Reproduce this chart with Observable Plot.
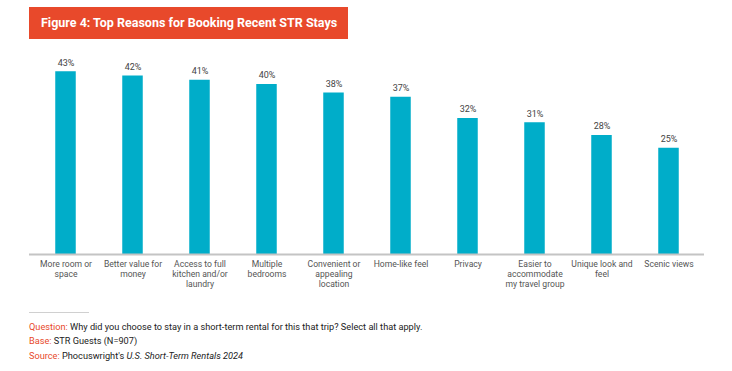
<!DOCTYPE html>
<html>
<head>
<meta charset="utf-8">
<script src="https://cdn.jsdelivr.net/npm/d3@7"></script>
<script src="https://cdn.jsdelivr.net/npm/@observablehq/plot@0.6"></script>
<style>
  body { margin: 0; background: #fff; font-family: Roboto, "Noto Sans", sans-serif; }
  #wrap { position: relative; width: 732px; height: 371px; overflow: hidden; }
  #title { position: absolute; left: 29px; top: 7px; width: 319px; height: 32px; background: #E8492B;
           color: #fff; font-weight: bold; font-size: 12.5px; line-height: 32px; box-sizing: border-box; padding-left: 12px; white-space: nowrap; }
  #chart { position: absolute; left: 0; top: 0; }
  #rule { position: absolute; left: 29px; top: 312px; width: 60px; height: 1px; background: #d0d0d0; }
  .note { position: absolute; left: 29px; font-size: 9.2px; color: #222; white-space: nowrap; }
  .note b { font-weight: normal; color: #E8492B; }
</style>
</head>
<body>
<div id="wrap">
  <div id="chart"></div>
  <div id="title">Figure 4: Top Reasons for Booking Recent STR Stays</div>
  <div id="rule"></div>
  <div class="note" style="top:320.5px"><b>Question:</b> Why did you choose to stay in a short-term rental for this that trip? Select all that apply.</div>
  <div class="note" style="top:335px"><b>Base:</b> STR Guests (N=907)</div>
  <div class="note" style="top:349.5px"><b>Source:</b> Phocuswright's <i>U.S. Short-Term Rentals 2024</i></div>
</div>
<script>
const categories = [
  "More room or\nspace",
  "Better value for\nmoney",
  "Access to full\nkitchen and/or\nlaundry",
  "Multiple\nbedrooms",
  "Convenient or\nappealing\nlocation",
  "Home-like feel",
  "Privacy",
  "Easier to\naccommodate\nmy travel group",
  "Unique look and\nfeel",
  "Scenic views"
];
const values = [43, 42, 41, 40, 38, 37, 32, 31, 28, 25];

const data = categories.map((c, i) => ({category: c, value: values[i]}));

const chart = Plot.plot({
  width: 732,
  height: 300,
  marginLeft: 29,
  marginRight: 28,
  marginTop: 50,
  marginBottom: 46,
  style: {fontFamily: "Roboto, 'Noto Sans', sans-serif", background: "transparent"},
  x: {domain: categories, padding: 0, axis: null},
  y: {domain: [0, 48], axis: null},
  marks: [
    Plot.barY(data, {x: "category", y: "value", fill: "#00ADC9", insetLeft: 23.25, insetRight: 23.25}),
    Plot.ruleY([0], {stroke: "#c4c4c4", strokeWidth: 2}),
    Plot.text(data, {x: "category", y: "value", text: d => `${d.value}%`, dy: -9, fontSize: 9, fill: "#444"}),
    Plot.text(data, {x: "category", y: 0, text: "category", lineAnchor: "top", dy: 6, fontSize: 8.6, lineHeight: 1.13, fill: "#555"})
  ]
});
document.getElementById("chart").appendChild(chart);
</script>
</body>
</html>
